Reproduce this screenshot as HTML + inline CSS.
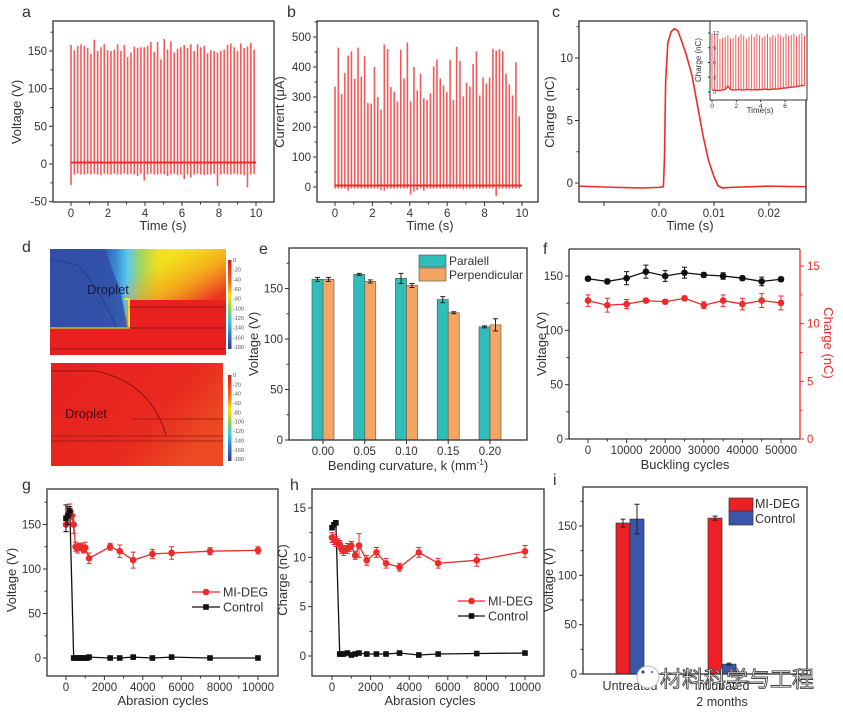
<!DOCTYPE html>
<html><head><meta charset="utf-8">
<style>
html,body{margin:0;padding:0;background:#fff;}
svg{display:block;font-family:"Liberation Sans",Arial,sans-serif;}
text{fill:#333;}
</style></head>
<body>
<svg id="fig" width="843" height="717" viewBox="0 0 843 717" xmlns="http://www.w3.org/2000/svg">
<defs>
<linearGradient id="cbar" x1="0" y1="0" x2="0" y2="1">
<stop offset="0" stop-color="#d7191c"/><stop offset="0.25" stop-color="#f46d1c"/><stop offset="0.4" stop-color="#f5e21a"/><stop offset="0.55" stop-color="#8fd14f"/><stop offset="0.7" stop-color="#37c4e6"/><stop offset="0.85" stop-color="#3a6fc4"/><stop offset="1" stop-color="#2b3b9c"/>
</linearGradient>
<linearGradient id="topH" x1="0" y1="0" x2="1" y2="0">
<stop offset="0" stop-color="#2f4da0"/><stop offset="0.3" stop-color="#3456b0"/><stop offset="0.38" stop-color="#3b8ed6"/><stop offset="0.44" stop-color="#5cc9ea"/><stop offset="0.52" stop-color="#a8d65a"/><stop offset="0.62" stop-color="#f2e21a"/><stop offset="1" stop-color="#f8e81a"/>
</linearGradient>
<linearGradient id="topR" x1="0.45" y1="0.05" x2="0.85" y2="0.75">
<stop offset="0" stop-color="#f0a020" stop-opacity="0"/><stop offset="0.35" stop-color="#f28a1e" stop-opacity="0.6"/><stop offset="0.7" stop-color="#ec3a20" stop-opacity="1"/><stop offset="1" stop-color="#e8201f"/>
</linearGradient>
<linearGradient id="botG" x1="0" y1="0" x2="1" y2="0.5">
<stop offset="0" stop-color="#e8201f"/><stop offset="0.7" stop-color="#e92a1f"/><stop offset="1" stop-color="#ec4a22"/>
</linearGradient>
</defs>
<g id="root"></g>
</svg>
<script>
// ---------- DATA ----------
const aPeaks=[158,151,157,159,157,154,146,165,150,155,159,151,150,152,159,150,158,142,148,156,154,155,155,157,162,149,162,139,166,152,163,148,153,155,158,154,159,150,159,155,157,147,151,150,148,150,152,158,160,155,150,160,154,156,161,152];
const aLows=[-28,-14,-13,-14,-14,-13,-14,-13,-14,-15,-13,-14,-14,-13,-14,-14,-13,-14,-13,-14,-16,-13,-22,-14,-13,-14,-14,-13,-14,-16,-14,-13,-15,-14,-20,-14,-18,-14,-13,-14,-15,-14,-14,-13,-29,-14,-13,-14,-14,-13,-14,-14,-15,-31,-14,-13];
const bPeaks=[335,465,310,380,438,452,360,465,368,436,280,278,400,300,258,475,460,333,318,285,458,362,482,285,400,322,378,296,290,312,402,425,362,338,316,424,290,467,420,302,348,335,410,452,305,365,345,365,460,455,460,453,378,342,305,416,235];
const bLows=[-5,-5,-5,-5,-12,-5,-5,-5,-5,-5,-5,-5,-5,-5,-10,-12,-5,-5,-5,-5,-5,-5,-5,-25,-15,-10,-5,-12,-5,-5,-5,-5,-5,-5,-5,-5,-5,-5,-5,-8,-5,-5,-5,-5,-5,-5,-5,-5,-5,-30,-5,-5,-5,-5,-5,-5,-5];
const cT=[-0.0145,-0.008,-0.003,0.0,0.0008,0.001,0.0012,0.0016,0.0022,0.0028,0.0034,0.004,0.005,0.006,0.007,0.008,0.009,0.010,0.0107,0.0115,0.013,0.02,0.0267];
const cQ=[-0.25,-0.35,-0.4,-0.35,-0.3,2,8,11.2,12.1,12.35,12.2,11.5,10.2,8.6,6.2,3.8,1.8,0.5,-0.2,-0.4,-0.35,-0.25,-0.3];
const insetPeaks=[12,11.8,11.5,10.8,11,11.2,11.5,10.9,11,11.6,11.2,11.8,11.5,10.8,11.3,11.7,11.2,11.9,11.5,11.1,11.4,11.8,11.2,11.6,11.3,11.9,11.5,11.2,11.8,11.4,11.6,11.9,11.3,11.7,12,11.5];
const insetBase=[0.4,0.4,0.3,0.3,0.4,0.5,1.2,0.5,0.4,0.4,0.5,0.4,0.4,0.5,0.5,0.4,0.5,0.4,0.5,0.5,0.6,0.5,0.5,0.6,0.6,0.6,0.7,0.8,0.8,0.9,1.0,1.0,1.1,1.2,1.3,1.3];
const eCats=["0.00","0.05","0.10","0.15","0.20"];
const eParallel=[159,164,160,139,112];
const eParallelErr=[2,1,5,3,1];
const ePerp=[159,157,153,126,114];
const ePerpErr=[2,1.5,2,1,6];
const fCycles=[0,5000,10000,15000,20000,25000,30000,35000,40000,45000,50000];
const fVolt=[147.5,145,148,154,150,153,151,150,148,145,147];
const fVoltErr=[2,2,6,6,5,5,2,3,2,4,2];
const fCharge=[12,11.6,11.7,12,11.9,12.2,11.6,12,11.7,12,11.8];
const fChargeErr=[0.5,0.6,0.4,0.2,0.2,0.2,0.3,0.5,0.5,0.6,0.6];
const gMiX=[0,100,200,300,400,500,600,700,800,900,1000,1200,2300,2800,3500,4500,5500,7500,10000];
const gMiY=[150,160,165,160,150,125,123,125,125,122,124,112,125,120,110,117,118,120,121];
const gMiErr=[8,8,8,5,10,5,5,4,4,4,6,6,4,7,9,5,7,4,4];
const gCtX=[0,100,200,400,500,600,700,800,900,1000,1100,1200,2300,2800,3500,4500,5500,7500,10000];
const gCtY=[157,160,165,0,0,0,0,0,0,0,0,1,0,0,1,0,1,0,0];
const gCtErr=[15,10,5,0,0,0,0,0,0,0,0,0,0,0,0,0,0,0,0];
const hMiX=[0,100,200,300,400,500,600,700,800,900,1000,1200,1400,1800,2300,2800,3500,4500,5500,7500,10000];
const hMiY=[12,11.8,11.6,11.5,11.3,10.8,10.7,10.8,10.9,11.0,11.2,10.2,11.2,9.7,10.5,9.4,9.0,10.5,9.4,9.7,10.6];
const hMiErr=[0.5,0.5,0.5,0.4,0.4,0.4,0.5,0.4,0.5,0.4,0.4,0.4,1.2,0.5,0.5,0.5,0.4,0.5,0.5,0.6,0.6];
const hCtX=[0,100,200,400,500,600,800,1000,1200,1400,1800,2300,2800,3500,4500,5500,7500,10000];
const hCtY=[13,13.3,13.5,0.2,0.2,0.2,0.3,0.1,0.2,0.3,0.2,0.2,0.2,0.3,0.1,0.2,0.25,0.3];
const iCats=["Untreated","Incubated"];
const iMi=[153,158];
const iMiErr=[4,2];
const iCt=[157,10];
const iCtErr=[15,1];
const cbLabels=["0","-20","-40","-60","-80","-100","-120","-140","-160","-180"];

// ---------- HELPERS ----------
const NS="http://www.w3.org/2000/svg";
const root=document.getElementById('root');
function el(tag,attrs,parent){const e=document.createElementNS(NS,tag);for(const k in attrs)e.setAttribute(k,attrs[k]);(parent||root).appendChild(e);return e;}
function txt(s,x,y,size,anchor,parent,extra){const t=el('text',Object.assign({x:x,y:y,'font-size':size,'text-anchor':anchor||'middle'},extra||{}),parent);t.textContent=s;return t;}
function lin(d0,d1,r0,r1){return v=>r0+(v-d0)*(r1-r0)/(d1-d0);}
const RED="#ee2a2a", SPK="#f25a5a";

function frame(g,L,T,R,B){const r=el('rect',{x:L,y:T,width:R-L,height:B-T,fill:'none',stroke:'#333','stroke-width':1.3},g);

}
function xTicks(g,B,xs,vals,labels,minor){vals.forEach((v,i)=>{el('line',{x1:xs(v),x2:xs(v),y1:B,y2:B+4,stroke:'#333','stroke-width':1},g);if(labels[i]!==''){const t=txt(labels[i],xs(v),B+15,11.5,'middle',g);

}});(minor||[]).forEach(v=>el('line',{x1:xs(v),x2:xs(v),y1:B,y2:B+2.5,stroke:'#333','stroke-width':1},g));}
function yTicks(g,L,ys,vals,labels,minor,color,right,fs){const c=color||'#333';vals.forEach((v,i)=>{el('line',{x1:L,x2:right?L+4:L-4,y1:ys(v),y2:ys(v),stroke:c,'stroke-width':1},g);const t=txt(labels[i],right?L+7:L-6,ys(v)+4,fs||11.5,right?'start':'end',g,{style:'fill:'+c});

});(minor||[]).forEach(v=>el('line',{x1:L,x2:right?L+2.5:L-2.5,y1:ys(v),y2:ys(v),stroke:c,'stroke-width':1},g));}
function yTitle(g,s,x,y,color,rot){const t=txt(s,x,y,13,'middle',g,{transform:'rotate('+(rot||-90)+' '+x+' '+y+')',style:'fill:'+(color||'#333')});

}
function xTitle(g,s,x,y){const t=txt(s,x,y,13,'middle',g);

return t;}
function panelLabel(s,x,y){const t=txt(s,x,y,16,'start',root);

}
function range(a,b,s){const r=[];for(let v=a;v<=b+1e-9;v+=s)r.push(+v.toFixed(6));return r;}

// ---------- PANEL A ----------
(function(){const g=el('g',{});


const L=53,R=274,T=21,B=202;const xs=lin(0,10,71,256),ys=lin(0,150,164,51);
const n=aPeaks.length;
aPeaks.forEach((p,i)=>{const t=i*9.9/(n-1);const ln=el('line',{x1:xs(t),x2:xs(t),y1:ys(aLows[i]),y2:ys(p),stroke:SPK,'stroke-width':1.6},g);

});
const base=el('line',{x1:xs(0),x2:xs(10),y1:ys(2),y2:ys(2),stroke:RED,'stroke-width':2},g);


frame(g,L,T,R,B);
xTicks(g,B,xs,range(0,10,2),['0','2','4','6','8','10'],range(1,9,2));
yTicks(g,L,ys,[-50,0,50,100,150],['-50','0','50','100','150'],[-25,25,75,125,175]);
yTitle(g,'Voltage (V)',21,112);xTitle(g,'Time (s)',163,230);})();
panelLabel('a',22,17);

// ---------- PANEL B ----------
(function(){const g=el('g',{});


const L=317,R=538,T=21,B=202;const xs=lin(0,10,335,522),ys=lin(0,500,187,37);
const n=bPeaks.length;
bPeaks.forEach((p,i)=>{const t=i*9.85/(n-1);const ln=el('line',{x1:xs(t),x2:xs(t),y1:ys(bLows[i]),y2:ys(p),stroke:SPK,'stroke-width':1.6},g);

});
const base=el('line',{x1:xs(0),x2:xs(10),y1:ys(5),y2:ys(5),stroke:RED,'stroke-width':2},g);


frame(g,L,T,R,B);
xTicks(g,B,xs,range(0,10,2),['0','2','4','6','8','10'],range(1,9,2));
yTicks(g,L,ys,range(0,500,100),['0','100','200','300','400','500'],range(50,550,100));
yTitle(g,'Current (μA)',284,112);xTitle(g,'Time (s)',430,230);})();
panelLabel('b',287,17);

// ---------- PANEL C ----------
(function(){const g=el('g',{});


const L=579,R=806,T=21,B=202;const xs=lin(0,0.01,659,714),ys=lin(0,10,183,58);
const pts=cT.map((t,i)=>xs(t)+','+ys(cQ[i])).join(' ');
const pl=el('polyline',{points:pts,fill:'none',stroke:RED,'stroke-width':1.6},g);


frame(g,L,T,R,B);
xTicks(g,B,xs,[-0.01,0,0.01,0.02],['','0.0','0.01','0.02']);
yTicks(g,L,ys,[0,5,10],['0','5','10'],[2.5,7.5,12.5]);
yTitle(g,'Charge (nC)',554,112);xTitle(g,'Time (s)',690,230);
const iL=710,iR=807,iT=21,iB=100;const ixs=lin(0,6,712,785),iys=lin(0,12,92,33);
const ig=el('g',{},g);


el('rect',{x:iL,y:iT,width:iR-iL,height:iB-iT,fill:'#fff'},ig);
const n=insetPeaks.length;
insetPeaks.forEach((p,i)=>{const t=i*7.6/(n-1);const ln=el('line',{x1:ixs(t),x2:ixs(t),y1:iys(insetBase[i]),y2:iys(p),stroke:SPK,'stroke-width':1},ig);

});
const ib=el('polyline',{points:insetBase.map((b,i)=>ixs(i*7.6/(n-1))+','+iys(b)).join(' '),fill:'none',stroke:RED,'stroke-width':1.3},ig);


el('rect',{x:iL,y:iT,width:iR-iL,height:iB-iT,fill:'none',stroke:'#333','stroke-width':1},ig);
[0,2,4,6].forEach(v=>{el('line',{x1:ixs(v),x2:ixs(v),y1:iB,y2:iB+2,stroke:'#333'},ig);txt(String(v),ixs(v),iB+8,6.5,'middle',ig);});
[0,3,6,9,12].forEach(v=>{el('line',{x1:iL,x2:iL-2,y1:iys(v),y2:iys(v),stroke:'#333'},ig);txt(String(v),iL+3,iys(v)+2,5.5,'start',ig);});
txt('Charge (nC)',701,60,8,'middle',ig,{transform:'rotate(-90 701 60)'});
txt('Time(s)',760,113,8,'middle',ig);})();
panelLabel('c',552,17);

// ---------- PANEL D ----------
(function(){const g=el('g',{});


const X=50,Y=249,W=176,H=106;
const top=el('g',{},g);


el('rect',{x:X,y:Y,width:W,height:H,fill:'url(#topH)'},top);
el('polygon',{points:[X+74,Y,X+W,Y,X+W,Y+H,X+77,Y+H].join(' '),fill:'url(#topR)'},top);
el('polygon',{points:[X,Y,X+55,Y,X+62,Y+20,X+70,Y+40,X+76,Y+70,X+77,Y+79,X,Y+79].join(' '),fill:'#3150a6',opacity:0.85},top);
el('rect',{x:X+79,y:Y+51,width:W-79,height:28,fill:'#e8201f'},top);
el('rect',{x:X,y:Y+79,width:W,height:H-79,fill:'#e8201f'},top);
el('path',{d:'M'+(X+74)+','+(Y+50)+' L'+(X+79)+','+(Y+50)+' L'+(X+79)+','+(Y+79)+' L'+X+','+(Y+79),fill:'none',stroke:'#e8e13a','stroke-width':2},top);
el('path',{d:'M'+X+','+(Y+10)+' L'+(X+28)+','+(Y+16)+' Q'+(X+50)+','+(Y+40)+' '+(X+66)+','+(Y+78),fill:'none',stroke:'#223a80','stroke-width':0.8},top);
[[X+79,Y+58],[X,Y+79],[X,Y+100]].forEach(p=>el('line',{x1:p[0],x2:X+W,y1:p[1],y2:p[1],stroke:'#8a1a1a','stroke-width':0.8},top));
const t1=txt('Droplet',X+37,Y+45,13,'start',top,{style:'fill:#1a1a40'});


const X2=51,Y2=363,W2=172,H2=103;
const bot=el('g',{},g);


el('rect',{x:X2,y:Y2,width:W2,height:H2,fill:'url(#botG)'},bot);
el('path',{d:'M'+X2+','+(Y2+8)+' L'+(X2+45)+','+(Y2+8)+' Q'+(X2+100)+','+(Y2+20)+' '+(X2+115)+','+(Y2+72),fill:'none',stroke:'#6a1010','stroke-width':0.8},bot);
[[X2+80,Y2+56],[X2,Y2+73],[X2,Y2+78]].forEach(p=>el('line',{x1:p[0],x2:X2+W2,y1:p[1],y2:p[1],stroke:'#8a1a1a','stroke-width':0.8},bot));
const t2=txt('Droplet',X2+14,Y2+55,13,'start',bot,{style:'fill:#3a0a0a'});


[[228,260,89],[228,375,86]].forEach(c=>{const cb=el('rect',{x:c[0],y:c[1],width:3.5,height:c[2],fill:'url(#cbar)'},g);


cbLabels.forEach((s,i)=>txt(s,c[0]+5,c[1]+2+i*c[2]/9.2,5.5,'start',g,{style:'fill:#555'}));});})();
panelLabel('d',22,252);

// ---------- PANEL E ----------
(function(){const g=el('g',{});


const L=289,R=527,T=248,B=440;const ys=lin(0,150,440,288.5);const xc=i=>323+i*41.75;
eCats.forEach((c,i)=>{
 const b1=el('rect',{x:xc(i)-11,y:ys(eParallel[i]),width:11,height:B-ys(eParallel[i]),fill:'#2fbdb9',stroke:'#556','stroke-width':0.7},g);
 
 
 const b2=el('rect',{x:xc(i),y:ys(ePerp[i]),width:11,height:B-ys(ePerp[i]),fill:'#f4a564',stroke:'#665','stroke-width':0.7},g);
 
 
 [[xc(i)-5.5,eParallel[i],eParallelErr[i]],[xc(i)+5.5,ePerp[i],ePerpErr[i]]].forEach(e=>{const eb=el('path',{d:'M'+e[0]+','+ys(e[1]-e[2])+'V'+ys(e[1]+e[2])+'M'+(e[0]-2.5)+','+ys(e[1]-e[2])+'h5M'+(e[0]-2.5)+','+ys(e[1]+e[2])+'h5',stroke:'#222','stroke-width':1,fill:'none'},g);
 
 });
});
frame(g,L,T,R,B);
xTicks(g,B,v=>v,[0,1,2,3,4].map(xc),eCats,[]);
yTicks(g,L,ys,[0,50,100,150],['0','50','100','150'],[25,75,125,175]);
yTitle(g,'Voltage (V)',258,344);
const xt=xTitle(g,'',408,470);xt.innerHTML='Bending curvature, k (mm<tspan dy="-5" font-size="8">-1</tspan><tspan dy="5">)</tspan>';
const lg=el('g',{},g);


el('rect',{x:419,y:255,width:27,height:12,fill:'#2fbdb9',stroke:'#556','stroke-width':0.7},lg);
el('rect',{x:419,y:268,width:27,height:13,fill:'#f4a564',stroke:'#665','stroke-width':0.7},lg);
txt('Paralell',449,265,12,'start',lg);txt('Perpendicular',449,279,12,'start',lg);})();
panelLabel('e',259,254);

// ---------- PANEL F ----------
(function(){const g=el('g',{});


const L=569,R=800,T=249,B=439;const xs=lin(0,50000,588,781),yl=lin(0,150,439,276),yr=lin(0,15,439,266);
function series(X,Y,E,ys,color,name){const pl=el('polyline',{points:X.map((x,i)=>xs(x)+','+ys(Y[i])).join(' '),fill:'none',stroke:color,'stroke-width':1.3},g);


X.forEach((x,i)=>{const eb=el('path',{d:'M'+xs(x)+','+ys(Y[i]-E[i])+'V'+ys(Y[i]+E[i])+'M'+(xs(x)-2.5)+','+ys(Y[i]-E[i])+'h5M'+(xs(x)-2.5)+','+ys(Y[i]+E[i])+'h5',stroke:color,'stroke-width':1,fill:'none'},g);


const c=el('circle',{cx:xs(x),cy:ys(Y[i]),r:3.3,fill:color},g);

});}
series(fCycles,fVolt,fVoltErr,yl,'#111','voltage');
series(fCycles,fCharge,fChargeErr,yr,RED,'charge');
el('line',{x1:L,y1:T,x2:R,y2:T,stroke:'#333','stroke-width':1.3},g);
el('line',{x1:L,y1:T,x2:L,y2:B,stroke:'#333','stroke-width':1.3},g);
el('line',{x1:L,y1:B,x2:R,y2:B,stroke:'#333','stroke-width':1.3},g);
el('line',{x1:R,y1:T,x2:R,y2:B,stroke:RED,'stroke-width':1.3},g);
xTicks(g,B,xs,range(0,50000,10000),['0','10000','20000','30000','40000','50000'],range(5000,45000,10000));
yTicks(g,L,yl,[0,50,100,150],['0','50','100','150'],[25,75,125]);
yTicks(g,R,yr,[0,5,10,15],['0','5','10','15'],[2.5,7.5,12.5],RED,true);
yTitle(g,'Voltage (V)',546,344);yTitle(g,'Charge (nC)',824,343,RED,90);
xTitle(g,'Buckling cycles',685,469);})();
panelLabel('f',543,254);

// ---------- G / H helpers ----------
function abrasion(g,xs,ys,mX,mY,mE,cX,cY,cE){
 const p1=el('polyline',{points:cX.map((x,i)=>xs(x)+','+ys(cY[i])).join(' '),fill:'none',stroke:'#111','stroke-width':1.3},g);
 
 
 const p2=el('polyline',{points:mX.map((x,i)=>xs(x)+','+ys(mY[i])).join(' '),fill:'none',stroke:RED,'stroke-width':1.3},g);
 
 
 mX.forEach((x,i)=>{const eb=el('path',{d:'M'+xs(x)+','+ys(mY[i]-mE[i])+'V'+ys(mY[i]+mE[i])+'M'+(xs(x)-2.5)+','+ys(mY[i]-mE[i])+'h5M'+(xs(x)-2.5)+','+ys(mY[i]+mE[i])+'h5',stroke:RED,'stroke-width':1,fill:'none'},g);
 
 
 const c=el('circle',{cx:xs(x),cy:ys(mY[i]),r:3.3,fill:RED},g);
 
 });
 cX.forEach((x,i)=>{if(cE&&cE[i]>0){const eb=el('path',{d:'M'+xs(x)+','+ys(cY[i]-cE[i])+'V'+ys(cY[i]+cE[i])+'M'+(xs(x)-2.5)+','+ys(cY[i]-cE[i])+'h5M'+(xs(x)-2.5)+','+ys(cY[i]+cE[i])+'h5',stroke:'#111','stroke-width':1,fill:'none'},g);
 
 }
 const s=el('rect',{x:xs(x)-2.8,y:ys(cY[i])-2.8,width:5.6,height:5.6,fill:'#111'},g);
 
 });
}
function lineLegend(g,x1,x2,y1,y2,tx){const lg=el('g',{},g);


el('line',{x1:x1,x2:x2,y1:y1,y2:y1,stroke:RED,'stroke-width':1.3},lg);el('circle',{cx:(x1+x2)/2,cy:y1,r:3.3,fill:RED},lg);
el('line',{x1:x1,x2:x2,y1:y2,y2:y2,stroke:'#111','stroke-width':1.3},lg);el('rect',{x:(x1+x2)/2-2.8,y:y2-2.8,width:5.6,height:5.6,fill:'#111'},lg);
txt('MI-DEG',tx,y1+4.5,12.5,'start',lg);txt('Control',tx,y2+4.5,12.5,'start',lg);}

// ---------- PANEL G ----------
(function(){const g=el('g',{});


const L=47,R=278,T=489,B=676;const xs=lin(0,10000,66,258),ys=lin(0,150,658,524.5);
abrasion(g,xs,ys,gMiX,gMiY,gMiErr,gCtX,gCtY,gCtErr);
frame(g,L,T,R,B);
xTicks(g,B,xs,range(0,10000,2000),['0','2000','4000','6000','8000','10000'],range(1000,9000,2000));
yTicks(g,L,ys,[0,50,100,150],['0','50','100','150'],[25,75,125,175]);
yTitle(g,'Voltage (V)',16,580);xTitle(g,'Abrasion cycles',163,705);
lineLegend(g,192,220,592,607,223);})();
panelLabel('g',22,490);

// ---------- PANEL H ----------
(function(){const g=el('g',{});


const L=312,R=544,T=489,B=676;const xs=lin(0,10000,332,525),ys=lin(0,15,656,508);
abrasion(g,xs,ys,hMiX,hMiY,hMiErr,hCtX,hCtY,null);
frame(g,L,T,R,B);
xTicks(g,B,xs,range(0,10000,2000),['0','2000','4000','6000','8000','10000'],range(1000,9000,2000));
yTicks(g,L,ys,[0,5,10,15],['0','5','10','15'],[2.5,7.5,12.5]);
yTitle(g,'Charge (nC)',287,580);xTitle(g,'Abrasion cycles',430,705);
lineLegend(g,458,485,601,616,488);})();
panelLabel('h',290,490);

// ---------- PANEL I ----------
(function(){const g=el('g',{});


const L=583,R=807,T=487,B=674;const ys=lin(0,150,674,526);const xc=[630,722];
iCats.forEach((c,i)=>{
 const b1=el('rect',{x:xc[i]-14,y:ys(iMi[i]),width:14,height:B-ys(iMi[i]),fill:'#ee2026',stroke:'#333','stroke-width':0.7},g);
 
 
 const b2=el('rect',{x:xc[i],y:ys(iCt[i]),width:14,height:B-ys(iCt[i]),fill:'#3a56a8',stroke:'#333','stroke-width':0.7},g);
 
 
 [[xc[i]-7,iMi[i],iMiErr[i]],[xc[i]+7,iCt[i],iCtErr[i]]].forEach(e=>{const eb=el('path',{d:'M'+e[0]+','+ys(e[1]-e[2])+'V'+ys(e[1]+e[2])+'M'+(e[0]-2.5)+','+ys(e[1]-e[2])+'h5M'+(e[0]-2.5)+','+ys(e[1]+e[2])+'h5',stroke:'#222','stroke-width':1,fill:'none'},g);
 
 });
});
frame(g,L,T,R,B);
yTicks(g,L,ys,[0,50,100,150],['0','50','100','150'],[25,75,125,175]);
yTitle(g,'Voltage (V)',553,580);
const l1=txt('Untreated',xc[0],690,12.5,'middle',g);


const l2=txt('Incubated',xc[1],690,12.5,'middle',g);


const l3=txt('2 months',xc[1],706,12.5,'middle',g);


const lg=el('g',{},g);


el('rect',{x:729,y:498,width:24,height:13,fill:'#ee2026',stroke:'#333','stroke-width':0.7},lg);
el('rect',{x:729,y:511,width:24,height:14,fill:'#3a56a8',stroke:'#333','stroke-width':0.7},lg);
txt('MI-DEG',755,508,12.5,'start',lg);txt('Control',755,523,12.5,'start',lg);
const wm=el('g',{},g);


el('circle',{cx:648,cy:677,r:11,fill:'#fff',stroke:'#bbb','stroke-width':1},wm);
el('circle',{cx:643,cy:672,r:1.6,fill:'#2a4aa0'},wm);
el('circle',{cx:652,cy:672,r:1.3,fill:'#888'},wm);
txt('材料科学与工程',660,687,22,'start',wm,{style:'fill:#fff;stroke:#444;stroke-width:0.9;font-family:"Liberation Sans","Noto Sans CJK SC",sans-serif'});})();
panelLabel('i',553,485);
</script>
</body></html>
